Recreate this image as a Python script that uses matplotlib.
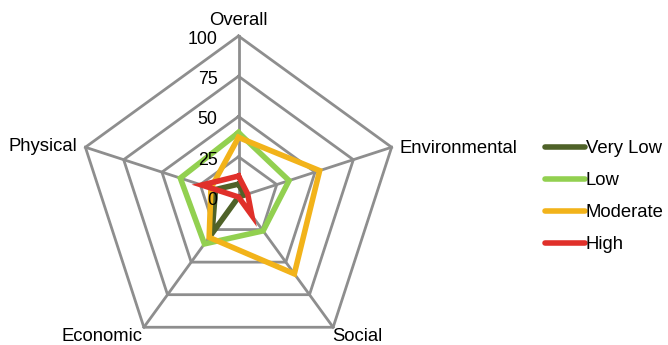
import numpy as np
import matplotlib
matplotlib.use("Agg")
import matplotlib.pyplot as plt
from matplotlib.lines import Line2D

plt.rcParams["font.family"] = ["Liberation Sans", "DejaVu Sans"]

categories = ["Overall", "Environmental", "Social", "Economic", "Physical"]
series_names = ["Very Low", "Low", "Moderate", "High"]
very_low = [8, 4, 0, 28, 15]
low = [40, 33, 26, 36, 38]
moderate = [37, 53, 59, 31, 18]
high = [13, 6, 14, 0, 24]
rings = [25, 50, 75, 100]
tick_values = [0, 25, 50, 75, 100]

colors = ["#4f6228", "#92d050", "#f2b31a", "#e0302a"]
grid_color = "#8e8e8e"

fig = plt.figure(figsize=(6.68, 3.45), dpi=100)
ax = fig.add_axes([77.5 / 668, -13 / 345, 322 / 668, 322 / 345], projection="polar")
ax.set_theta_offset(np.pi / 2)
ax.set_theta_direction(-1)
ax.set_ylim(0, 100)
ax.grid(False)
ax.spines["polar"].set_visible(False)
ax.set_xticks([])
ax.set_yticks([])
ax.patch.set_alpha(0)

angles = np.linspace(0, 2 * np.pi, len(categories), endpoint=False)
closed = np.append(angles, angles[0])

# pentagon rings and spokes
for r in rings:
    ax.plot(closed, [r] * len(closed), color=grid_color, lw=2.0, zorder=1, clip_on=False)
for a in angles:
    ax.plot([a, a], [0, 100], color=grid_color, lw=2.0, zorder=1, clip_on=False)

# data
for name, vals, c in zip(series_names, [very_low, low, moderate, high], colors):
    v = np.append(vals, vals[0])
    ax.plot(closed, v, color=c, lw=4.0, zorder=3, solid_joinstyle="miter", clip_on=False)

# radial tick labels
for t in tick_values:
    ax.annotate(str(t), (0, t), xytext=(-15, -2.5), textcoords="offset points",
                ha="right", va="center", fontsize=12.8, annotation_clip=False)

# category labels
label_offsets = [(0, 11, "center"), (6, -1, "left"), (-1, -7, "left"),
                 (-1, -7, "right"), (-6, 0.5, "right")]
for a, name, (dx, dy, ha) in zip(angles, categories, label_offsets):
    ax.annotate(name, (a, 100), xytext=(dx, dy), textcoords="offset points",
                ha=ha, va="center", fontsize=13.3, annotation_clip=False)

handles = [Line2D([], [], color=c, lw=4.0, solid_capstyle="round") for c in colors]
fig.legend(handles, series_names, loc="upper left", bbox_to_anchor=(545 / 668, 1 - 140 / 345),
           frameon=False, fontsize=13.3, handlelength=2.15, handletextpad=0.05,
           labelspacing=0.82, borderpad=0, borderaxespad=0)

fig.savefig("out.png", dpi=100)
